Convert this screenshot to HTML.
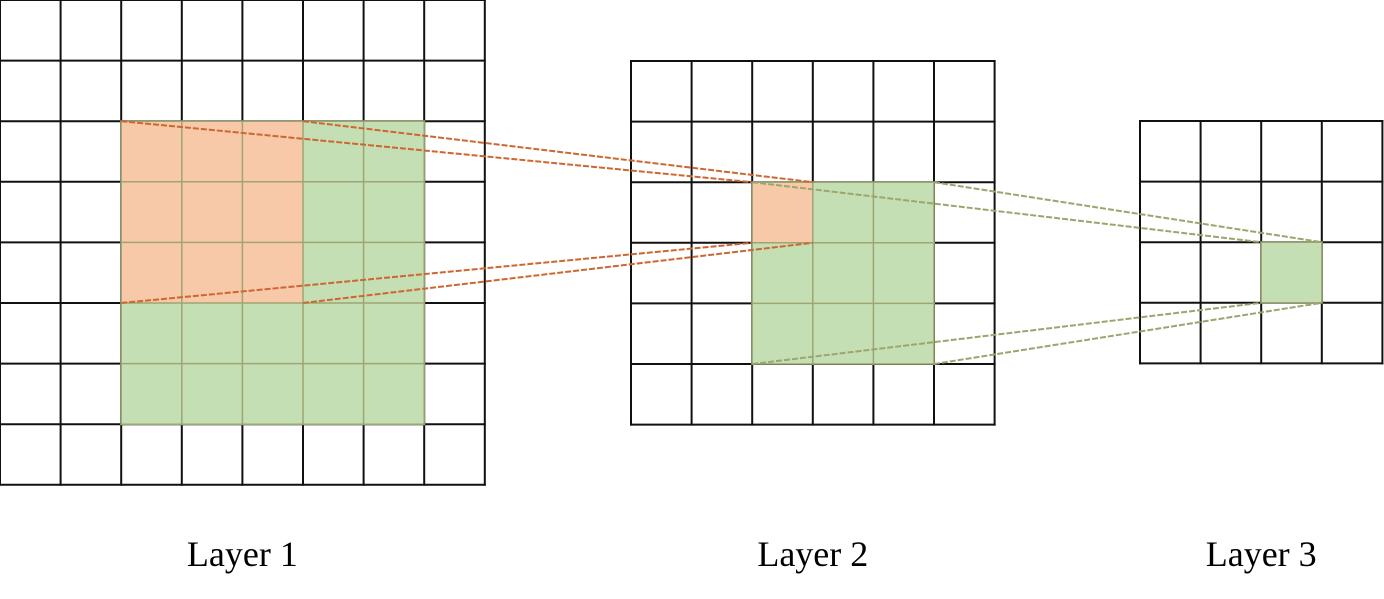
<!DOCTYPE html>
<html><head><meta charset="utf-8"><style>
html,body{margin:0;padding:0;background:#fff;width:1384px;height:599px;overflow:hidden}
svg{display:block}
</style></head><body>
<svg id="chart" width="1384" height="599" xmlns="http://www.w3.org/2000/svg"></svg>
<script>
const layerNames = ["Layer 1","Layer 2","Layer 3"];
const gridSizes = [8,6,4];
const gridX = [0,631,1140];
const gridY = [0,61,121];
const greenRegions = [[2,2,5,5],[2,2,3,3],[2,2,1,1]];
const orangeRegions = [[2,2,3,3],[2,2,1,1],null];
const cell = 60.6;
const NS = "http://www.w3.org/2000/svg";
const svg = document.getElementById("chart");
function mk(tag, attrs, parent){const e=document.createElementNS(NS,tag);for(const k in attrs)e.setAttribute(k,attrs[k]);(parent||svg).appendChild(e);return e;}
function cx(l,c){return gridX[l]+c*cell;}
function cy(l,r){return gridY[l]+r*cell;}
const defs = mk("defs",{});
for(let l=0;l<3;l++){
  const n=gridSizes[l];
  for(let i=0;i<=n;i++){
    const v=mk("line",{x1:cx(l,i),y1:cy(l,0)-1,x2:cx(l,i),y2:cy(l,n)+1,stroke:"#111","stroke-width":2});
    
    
    const h=mk("line",{x1:cx(l,0)-1,y1:cy(l,i),x2:cx(l,n)+1,y2:cy(l,i),stroke:"#111","stroke-width":2});
    
    
  }
  const g=greenRegions[l];
  const gr=mk("rect",{x:cx(l,g[0]),y:cy(l,g[1]),width:g[2]*cell,height:g[3]*cell,fill:"#c5dfb4"});
  
  
  const o=orangeRegions[l];
  if(o){
    const orr=mk("rect",{x:cx(l,o[0]),y:cy(l,o[1]),width:o[2]*cell,height:o[3]*cell,fill:"#f7c9a9"});
    
    
  }
  const cp=mk("clipPath",{id:"clip"+l},defs);
  mk("rect",{x:cx(l,g[0])-1,y:cy(l,g[1])-1,width:g[2]*cell+2,height:g[3]*cell+2},cp);
  const grp=mk("g",{"clip-path":"url(#clip"+l+")"});
  
  
  for(let i=0;i<=n;i++){
    mk("line",{x1:cx(l,i),y1:cy(l,0),x2:cx(l,i),y2:cy(l,n),stroke:"#9da672","stroke-width":1.5},grp);
    mk("line",{x1:cx(l,0),y1:cy(l,i),x2:cx(l,n),y2:cy(l,i),stroke:"#9da672","stroke-width":1.5},grp);
  }
  const t=mk("text",{x:cx(l,n/2),y:566,"text-anchor":"middle","font-family":"Liberation Serif, serif","font-size":36,fill:"#000"});
  t.textContent=layerNames[l];
  
  
}
function connect(a,ra,b,rb,color){
  const pa=[[ra[0],ra[1]],[ra[0]+ra[2],ra[1]],[ra[0],ra[1]+ra[3]],[ra[0]+ra[2],ra[1]+ra[3]]];
  const pb=[[rb[0],rb[1]],[rb[0]+rb[2],rb[1]],[rb[0],rb[1]+rb[3]],[rb[0]+rb[2],rb[1]+rb[3]]];
  for(let i=0;i<4;i++){
    const ln=mk("line",{x1:cx(a,pa[i][0]),y1:cy(a,pa[i][1]),x2:cx(b,pb[i][0]),y2:cy(b,pb[i][1]),stroke:color,"stroke-width":2,"stroke-dasharray":"6,2"});
    
    
  }
}
connect(0,orangeRegions[0],1,orangeRegions[1],"#cd6630");
connect(1,greenRegions[1],2,greenRegions[2],"#9aa66e");
</script>
</body></html>
